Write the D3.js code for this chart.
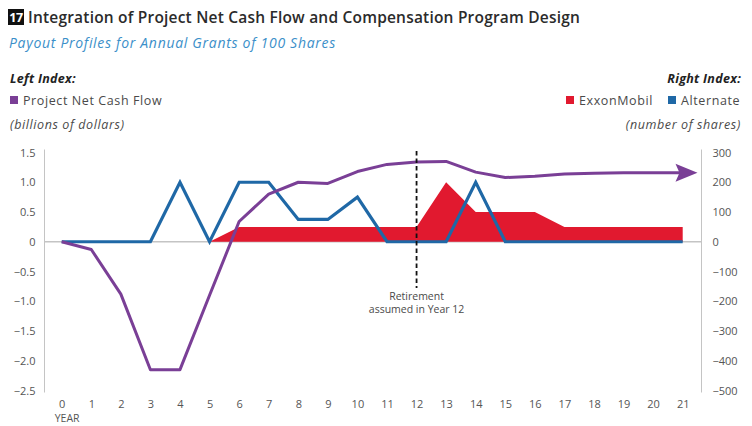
<!DOCTYPE html>
<html>
<head>
<meta charset="utf-8">
<script src="https://cdn.jsdelivr.net/npm/d3@7"></script>
<style>
  html, body { margin: 0; padding: 0; background: #ffffff; }
  svg { display: block; font-family: "Open Sans", "Noto Sans", sans-serif; }
</style>
</head>
<body>
<svg id="chart" width="752" height="426"></svg>
<script>
// ---- Data ----
const years = [0,1,2,3,4,5,6,7,8,9,10,11,12,13,14,15,16,17,18,19,20,21];
const netCashFlow = [0,-0.13,-0.88,-2.15,-2.15,-0.9,0.34,0.8,1.0,0.98,1.18,1.3,1.34,1.35,1.17,1.08,1.1,1.14,1.15,1.16,1.16,1.16];
const cashFlowArrowEnd = 21.5;
const alternateShares = [0,0,0,0,200,0,200,200,75,75,150,0,0,0,200,0,0,0,0,0,0,0];
const exxonYears = [5,6,7,8,9,10,11,12,13,14,15,16,17,18,19,20,21];
const exxonShares = [0,50,50,50,50,50,50,50,200,100,100,100,50,50,50,50,50];
const leftTicks = [1.5,1.0,0.5,0,-0.5,-1.0,-1.5,-2.0,-2.5];
const rightTicks = [300,200,100,0,-100,-200,-300,-400,-500];
const retirementYear = 12;

const colors = { purple: "#7a3f96", blue: "#1f68a6", red: "#e1192f", axis: "#c4c4c4", text: "#4a4a4a" };

const svg = d3.select("#chart");

// ---- Scales ----
const x = d3.scaleLinear().domain([0, 21]).range([61.7, 682.7]);
const yL = d3.scaleLinear().domain([-2.5, 1.5]).range([390.5, 152.5]);
const yR = d3.scaleLinear().domain([-500, 300]).range([390.5, 152.5]);

// ---- Title ----
svg.append("rect").attr("x", 8).attr("y", 9).attr("width", 16).attr("height", 16).attr("fill", "#111");
svg.append("text").attr("x", 16).attr("y", 22).attr("text-anchor", "middle")
  .attr("fill", "#fff").attr("font-size", 12.5).attr("font-weight", 700).attr("letter-spacing", -0.5).text("17");
svg.append("text").attr("x", 28).attr("y", 22.5).attr("fill", "#2b2b2b")
  .attr("font-size", 15.5).attr("font-weight", 600).attr("letter-spacing", 0.2)
  .text("Integration of Project Net Cash Flow and Compensation Program Design");
svg.append("text").attr("x", 9).attr("y", 48).attr("fill", "#3b8fc9")
  .attr("font-size", 14).attr("font-style", "italic").attr("letter-spacing", 0.7)
  .text("Payout Profiles for Annual Grants of 100 Shares");

// ---- Legends ----
const legFont = 12.5, legSpacing = 0.6;
svg.append("text").attr("x", 10).attr("y", 83).attr("fill", "#222")
  .attr("font-size", legFont).attr("font-weight", 700).attr("font-style", "italic").attr("letter-spacing", 0.3).text("Left Index:");
svg.append("rect").attr("x", 10).attr("y", 96).attr("width", 8).attr("height", 8).attr("fill", colors.purple);
svg.append("text").attr("x", 23).attr("y", 104.5).attr("fill", colors.text)
  .attr("font-size", legFont).attr("letter-spacing", legSpacing).text("Project Net Cash Flow");
svg.append("text").attr("x", 10).attr("y", 129).attr("fill", colors.text)
  .attr("font-size", legFont).attr("font-style", "italic").attr("letter-spacing", legSpacing).text("(billions of dollars)");

svg.append("text").attr("x", 741).attr("y", 83).attr("text-anchor", "end").attr("fill", "#222")
  .attr("font-size", legFont).attr("font-weight", 700).attr("font-style", "italic").attr("letter-spacing", 0.3).text("Right Index:");
svg.append("rect").attr("x", 566).attr("y", 96).attr("width", 8).attr("height", 8).attr("fill", colors.red);
svg.append("text").attr("x", 579).attr("y", 104.5).attr("fill", colors.text)
  .attr("font-size", legFont).attr("letter-spacing", legSpacing).text("ExxonMobil");
svg.append("rect").attr("x", 668).attr("y", 96).attr("width", 8).attr("height", 8).attr("fill", colors.blue);
svg.append("text").attr("x", 681).attr("y", 104.5).attr("fill", colors.text)
  .attr("font-size", legFont).attr("letter-spacing", legSpacing).text("Alternate");
svg.append("text").attr("x", 741).attr("y", 129).attr("text-anchor", "end").attr("fill", colors.text)
  .attr("font-size", legFont).attr("font-style", "italic").attr("letter-spacing", legSpacing).text("(number of shares)");

// ---- Axes ----
const leftAxis = d3.axisLeft(yL).tickValues(leftTicks).tickSize(0).tickPadding(9)
  .tickFormat(d => d === 0 ? "0" : d3.format(".1f")(d).replace("-", "\u2212"));
const gL = svg.append("g").attr("transform", "translate(44.5,0)").call(leftAxis);
const rightAxis = d3.axisRight(yR).tickValues(rightTicks).tickSize(0).tickPadding(11)
  .tickFormat(d => String(d).replace("-", "\u2212"));
const gR = svg.append("g").attr("transform", "translate(701.5,0)").call(rightAxis);
[gL, gR].forEach(g => {
  g.select(".domain").attr("stroke", colors.axis).attr("stroke-width", 1)
    .attr("d", `M0,${yL(1.5) - 3}V${yL(-2.5) + 2}`);
  g.selectAll("text").attr("fill", "#555").attr("font-size", 11).attr("font-family", "'Open Sans', sans-serif");
});

const xAxis = d3.axisBottom(x).tickValues(years).tickSize(0).tickPadding(0);
const gX = svg.append("g").attr("transform", "translate(0,400)").call(xAxis);
gX.select(".domain").remove();
gX.selectAll("text").attr("fill", "#555").attr("font-size", 11).attr("font-family", "'Open Sans', sans-serif");
svg.append("text").attr("x", x(0) - 7).attr("y", 422).attr("fill", "#555").attr("font-size", 10.5).text("YEAR");

// zero line
svg.append("line").attr("x1", 44.5).attr("x2", 701.5).attr("y1", yL(0)).attr("y2", yL(0))
  .attr("stroke", colors.axis).attr("stroke-width", 1.5);

// ---- ExxonMobil area ----
const area = d3.area().x((d, i) => x(exxonYears[i])).y0(yR(0)).y1(d => yR(d));
svg.append("path").datum(exxonShares).attr("d", area).attr("fill", colors.red);

// ---- Alternate line ----
const lineR = d3.line().x((d, i) => x(years[i])).y(d => yR(d));
svg.append("path").datum(alternateShares).attr("d", lineR).attr("fill", "none")
  .attr("stroke", colors.blue).attr("stroke-width", 3.2).attr("stroke-linejoin", "miter");

// ---- Net cash flow line ----
const cfPts = years.map((yr, i) => [x(yr), yL(netCashFlow[i])]);
const lastVal = netCashFlow[netCashFlow.length - 1];
const tipX = x(cashFlowArrowEnd);
const headLen = 22;
cfPts.push([tipX - headLen + 2, yL(lastVal)]);
svg.append("path").attr("d", d3.line()(cfPts)).attr("fill", "none")
  .attr("stroke", colors.purple).attr("stroke-width", 3).attr("stroke-linejoin", "round");
const ay = yL(lastVal);
svg.append("path")
  .attr("d", `M${tipX},${ay}L${tipX - headLen},${ay - 9}L${tipX - headLen + 4},${ay}L${tipX - headLen},${ay + 9}Z`)
  .attr("fill", colors.purple);

// ---- Retirement marker ----
svg.append("line").attr("x1", x(retirementYear)).attr("x2", x(retirementYear))
  .attr("y1", 151).attr("y2", 288).attr("stroke", "#111").attr("stroke-width", 1.8)
  .attr("stroke-dasharray", "4.5,3");
svg.append("text").attr("x", x(retirementYear)).attr("y", 300).attr("text-anchor", "middle")
  .attr("fill", colors.text).attr("font-size", 10.5).text("Retirement");
svg.append("text").attr("x", x(retirementYear)).attr("y", 313).attr("text-anchor", "middle")
  .attr("fill", colors.text).attr("font-size", 10.5).text("assumed in Year 12");
</script>
</body>
</html>
